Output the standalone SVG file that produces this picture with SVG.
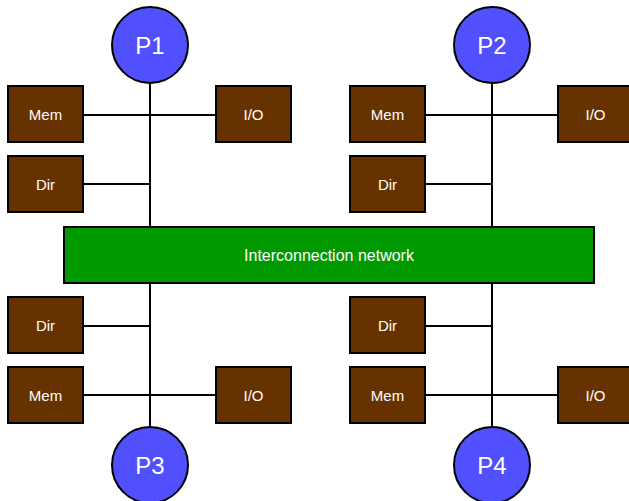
<svg xmlns="http://www.w3.org/2000/svg" width="629" height="501" viewBox="0 0 629 501">
<style>
.box{fill:#663300;stroke:#000;stroke-width:2}
.proc{fill:#5050ff;stroke:#000;stroke-width:2}
.net{fill:#009900;stroke:#000;stroke-width:2}
.lbl{fill:#fff;font-family:"Liberation Sans",Arial,sans-serif;font-size:15px;text-anchor:middle}
.plbl{fill:#fff;font-family:"Liberation Sans",Arial,sans-serif;font-size:24px;text-anchor:middle}
.nlbl{fill:#fff;font-family:"Liberation Sans",Arial,sans-serif;font-size:16px;text-anchor:middle}
.wire{stroke:#000;stroke-width:2;fill:none}
</style>
<rect width="629" height="501" fill="#fff"/>
<g id="connectors">
<path class="wire" d="M150 83V227M83 115H216M83 184H150"/>
<path class="wire" d="M492 83V227M426 115H558M426 184H492"/>
<path class="wire" d="M150 283V427M83 395H216M83 326H150"/>
<path class="wire" d="M492 283V427M426 395H558M426 326H492"/>
</g>
<g id="network"><rect class="net" x="64" y="227" width="530" height="56"/><text class="nlbl" x="329" y="261">Interconnection network</text></g>
<g id="P1"><circle class="proc" cx="150" cy="45" r="38"/><text class="plbl" x="150" y="54">P1</text></g>
<g id="P2"><circle class="proc" cx="492" cy="45" r="38"/><text class="plbl" x="492" y="54">P2</text></g>
<g id="P3"><circle class="proc" cx="150" cy="465" r="38"/><text class="plbl" x="150" y="474">P3</text></g>
<g id="P4"><circle class="proc" cx="492" cy="465" r="38"/><text class="plbl" x="492" y="474">P4</text></g>
<g id="mem1"><rect class="box" x="8" y="86" width="75" height="56"/><text class="lbl" x="45.5" y="119.5">Mem</text></g>
<g id="io1"><rect class="box" x="216" y="86" width="75" height="56"/><text class="lbl" x="253.5" y="119.5">I/O</text></g>
<g id="dir1"><rect class="box" x="8" y="156" width="75" height="56"/><text class="lbl" x="45.5" y="189.5">Dir</text></g>
<g id="mem2"><rect class="box" x="350" y="86" width="75" height="56"/><text class="lbl" x="387.5" y="119.5">Mem</text></g>
<g id="io2"><rect class="box" x="558" y="86" width="75" height="56"/><text class="lbl" x="595.5" y="119.5">I/O</text></g>
<g id="dir2"><rect class="box" x="350" y="156" width="75" height="56"/><text class="lbl" x="387.5" y="189.5">Dir</text></g>
<g id="dir3"><rect class="box" x="8" y="297" width="75" height="56"/><text class="lbl" x="45.5" y="330.5">Dir</text></g>
<g id="mem3"><rect class="box" x="8" y="367" width="75" height="56"/><text class="lbl" x="45.5" y="400.5">Mem</text></g>
<g id="io3"><rect class="box" x="216" y="367" width="75" height="56"/><text class="lbl" x="253.5" y="400.5">I/O</text></g>
<g id="dir4"><rect class="box" x="350" y="297" width="75" height="56"/><text class="lbl" x="387.5" y="330.5">Dir</text></g>
<g id="mem4"><rect class="box" x="350" y="367" width="75" height="56"/><text class="lbl" x="387.5" y="400.5">Mem</text></g>
<g id="io4"><rect class="box" x="558" y="367" width="75" height="56"/><text class="lbl" x="595.5" y="400.5">I/O</text></g>
</svg>
